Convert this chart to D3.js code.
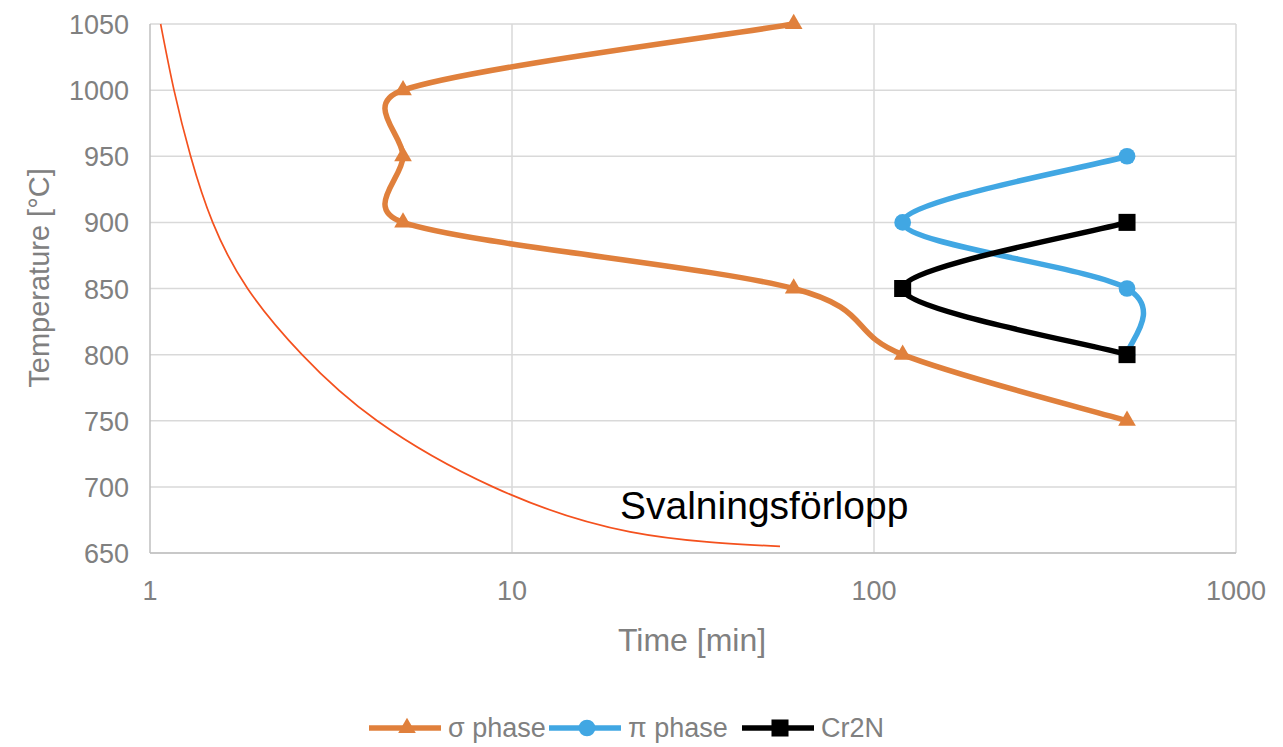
<!DOCTYPE html>
<html>
<head>
<meta charset="utf-8">
<script src="https://cdn.jsdelivr.net/npm/d3@7"></script>
<style>
  body { margin: 0; background: #fff; }
  svg { display: block; }
</style>
</head>
<body>
<svg id="chart" width="1283" height="747"></svg>
<script>
// data
var xTicks = [1, 10, 100, 1000];
var yTicks = [650, 700, 750, 800, 850, 900, 950, 1000, 1050];

var sigmaTime = [60, 5, 5, 5, 60, 120, 500];
var sigmaTemp = [1050, 1000, 950, 900, 850, 800, 750];

var piTime = [500, 120, 500, 500];
var piTemp = [950, 900, 850, 800];

var crTime = [500, 120, 500];
var crTemp = [900, 850, 800];

// cooling curve (Svalningsförlopp)
var coolTime = [1.07, 1.165, 1.295, 1.49, 1.86, 2.63, 4.24, 8.86, 21.2, 55];
var coolTemp = [1050, 1000, 950, 900, 850, 800, 750, 700, 666, 655];

var seriesNames = ["σ phase", "π phase", "Cr2N"];
var seriesColors = ["#e0803c", "#41a7e3", "#000000"];

var svg = d3.select("#chart");
var pLeft = 150, pRight = 1236, pTop = 24, pBottom = 553;

var x = d3.scaleLog().domain([1, 1000]).range([pLeft, pRight]);
var y = d3.scaleLinear().domain([650, 1050]).range([pBottom, pTop]);

var font = "'Liberation Sans', Arial, sans-serif";
var grey = "#808080";

// grid
svg.append("g").selectAll("line").data(yTicks).join("line")
    .attr("x1", pLeft).attr("x2", pRight)
    .attr("y1", d => y(d)).attr("y2", d => y(d))
    .style("stroke", "#d9d9d9").style("stroke-width", 1.5);
svg.append("g").selectAll("line").data(xTicks.slice(1)).join("line")
    .attr("x1", d => x(d)).attr("x2", d => x(d))
    .attr("y1", pTop).attr("y2", pBottom)
    .style("stroke", "#d9d9d9").style("stroke-width", 1.5);

// axes lines
svg.append("line").attr("x1", pLeft).attr("x2", pLeft).attr("y1", pTop).attr("y2", pBottom)
    .style("stroke", "#bfbfbf").style("stroke-width", 1.5);
svg.append("line").attr("x1", pLeft).attr("x2", pRight).attr("y1", pBottom).attr("y2", pBottom)
    .style("stroke", "#bfbfbf").style("stroke-width", 1.5);

// tick labels
svg.append("g").selectAll("text").data(yTicks).join("text")
    .attr("x", 129).attr("y", d => y(d) + 10)
    .attr("text-anchor", "end")
    .style("font-family", font).style("font-size", "27px").style("fill", grey)
    .text(d => d);
svg.append("g").selectAll("text").data(xTicks).join("text")
    .attr("x", d => x(d)).attr("y", 600)
    .attr("text-anchor", "middle")
    .style("font-family", font).style("font-size", "27px").style("fill", grey)
    .text(d => d);

// axis titles
svg.append("text").attr("x", 692).attr("y", 651).attr("text-anchor", "middle")
    .style("font-family", font).style("font-size", "32px").style("fill", grey)
    .text("Time [min]");
svg.append("text").attr("transform", "translate(49,278) rotate(-90)").attr("text-anchor", "middle")
    .style("font-family", font).style("font-size", "29px").style("fill", grey)
    .text("Temperature [°C]");

// cooling curve
var coolLine = d3.line().curve(d3.curveNatural)
    .x(d => x(d[0])).y(d => y(d[1]));
svg.append("path").datum(d3.zip(coolTime, coolTemp))
    .attr("d", coolLine)
    .style("fill", "none").style("stroke", "#f4511e").style("stroke-width", 1.7);

svg.append("text").attr("x", 620).attr("y", 519)
    .style("font-family", font).style("font-size", "39px").style("fill", "#000")
    .text("Svalningsförlopp");

// excel-like smoothed line: catmull-rom tangents, capped on short segments
function smoothPath(pts){
    var p = d3.path();
    var n = pts.length;
    var tan = function(i){
        var a = pts[Math.max(i - 1, 0)], b = pts[Math.min(i + 1, n - 1)];
        return [(b[0] - a[0]) / 6, (b[1] - a[1]) / 6];
    };
    var cap = function(t, len){
        var l = Math.hypot(t[0], t[1]), m = 0.65 * len;
        return l > m ? [t[0] * m / l, t[1] * m / l] : t;
    };
    p.moveTo(pts[0][0], pts[0][1]);
    for(var i = 0; i < n - 1; i++){
        var a = pts[i], b = pts[i + 1];
        var len = Math.hypot(b[0] - a[0], b[1] - a[1]);
        var t1 = cap(tan(i), len), t2 = cap(tan(i + 1), len);
        p.bezierCurveTo(a[0] + t1[0], a[1] + t1[1], b[0] - t2[0], b[1] - t2[1], b[0], b[1]);
    }
    return p.toString();
}

// phase series
var series = [
  d3.zip(sigmaTime, sigmaTemp),
  d3.zip(piTime, piTemp),
  d3.zip(crTime, crTemp)
];
var symbols = [d3.symbolTriangle, d3.symbolCircle, d3.symbolSquare];
var symSizes = [135, 220, 290];

series.forEach(function(s, i){
    var px = s.map(d => [x(d[0]), y(d[1])]);
    svg.append("path").attr("d", smoothPath(px))
        .style("fill", "none").style("stroke", seriesColors[i])
        .style("stroke-width", 5.5).style("stroke-linejoin", "round");
    svg.append("g").selectAll("path").data(s).join("path")
        .attr("transform", d => "translate(" + x(d[0]) + "," + y(d[1]) + ")")
        .attr("d", d3.symbol().type(symbols[i]).size(symSizes[i]))
        .style("fill", seriesColors[i]);
});

// legend
var legX = [369, 549, 742];
var legend = svg.append("g");
seriesNames.forEach(function(n, i){
    var lx = legX[i];
    legend.append("line").attr("x1", lx).attr("x2", lx + 72).attr("y1", 728).attr("y2", 728)
        .style("stroke", seriesColors[i]).style("stroke-width", 5.5);
    legend.append("path").attr("transform", "translate(" + (lx + 38) + ",728)")
        .attr("d", d3.symbol().type(symbols[i]).size(symSizes[i]))
        .style("fill", seriesColors[i]);
    legend.append("text").attr("x", lx + 79).attr("y", 737)
        .style("font-family", font).style("font-size", "27px").style("fill", grey)
        .text(n);
});
</script>
</body>
</html>
